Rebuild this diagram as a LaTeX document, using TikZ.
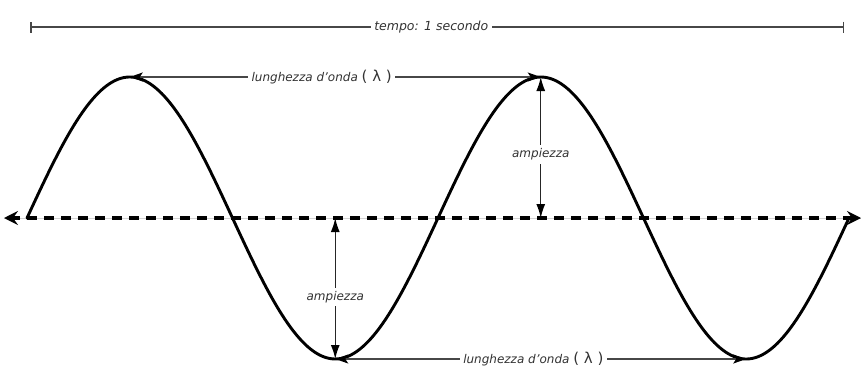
\documentclass[tikz,border=0pt]{standalone}
\usepackage{fontspec}
\setmainfont{DejaVu Sans}
\usetikzlibrary{arrows.meta}
\begin{document}
\begin{tikzpicture}[x=1pt,y=1pt,
  wave/.style={line width=2.9pt, black, line cap=round},
  axisline/.style={line width=3.2pt, dash pattern=on 10pt off 7pt, black},
  dim/.style={line width=1.5pt, color=black!72},
  amp/.style={line width=1.4pt, color=black!85},
  lbl/.style={fill=white, inner sep=3.5pt, text=black!80, font=\itshape\fontsize{12}{14}\selectfont},
  htip/.tip={Stealth[length=13pt,width=9pt,inset=3pt,color=black]},
  vtip/.tip={Latex[length=14pt,width=9pt,color=black]},
  axtip/.tip={Stealth[length=14pt,width=14pt,inset=5pt]}]
\useasboundingbox (0,0) rectangle (865,376);
% coordinates
\coordinate (L) at (4,158);
\coordinate (R) at (861,158);
\coordinate (p1) at (129.75,299);
\coordinate (p2) at (540.75,299);
\coordinate (t1) at (335.25,17);
\coordinate (t2) at (746.25,17);
\coordinate (z1) at (335.25,158);
\coordinate (z2) at (540.75,158);
\coordinate (b1) at (30,349);
\coordinate (b2) at (844,349);
\coordinate (Li) at (20,158);
\coordinate (Ri) at (845,158);
% axis
\draw[gray!35, line width=0.8pt] (L) -- (R);
\draw[axisline] (10,158) -- (855,158);
\draw[line width=2.4pt, -{axtip}] (Ri) -- (R);
\draw[line width=2.4pt, -{axtip}] (Li) -- (L);
% wave
\draw[wave] plot[domain=0:822, samples=300, smooth] ({\x+27}, {158+141*sin(\x*0.875912)});
% time bar
\draw[dim, {Bar[width=11pt]}-{Bar[width=11pt]}] (b1) -- node[lbl, pos=0.493, font=\itshape\fontsize{12.5}{14}\selectfont] (tt) {tempo: 1 secondo} (b2);
% wavelength arrows
\draw[dim, {htip}-{htip}] (p1) -- node[lbl, pos=0.467] (w1) {lunghezza d'onda {\upshape\fontsize{15}{16}\selectfont( λ )}} (p2);
\draw[dim, {htip}-{htip}] (t1) -- node[lbl, pos=0.482] (w2) {lunghezza d'onda {\upshape\fontsize{15}{16}\selectfont( λ )}} (t2);
% amplitude arrows
\draw[amp, {vtip}-{vtip}] (z2) -- node[lbl, pos=0.45, inner xsep=1pt] (a1) {ampiezza} (p2);
\draw[amp, {vtip}-{vtip}] (z1) -- node[lbl, pos=0.56, inner xsep=1pt] (a2) {ampiezza} (t1);
\end{tikzpicture}
\end{document}
